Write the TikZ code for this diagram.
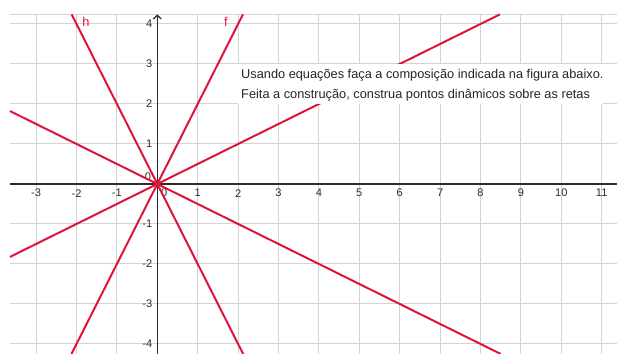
\documentclass[tikz,border=0pt]{standalone}
\usepackage{fontspec}
\setmainfont{Liberation Sans}
\usetikzlibrary{arrows.meta}
\definecolor{linered}{RGB}{220,20,60}
\definecolor{gridgray}{RGB}{211,211,211}
\definecolor{axisgray}{RGB}{45,45,45}

\begin{document}
\begin{tikzpicture}[x=1cm, y=0.99cm,
  gridline/.style={gridgray, line width=0.7pt},
  axisline/.style={axisgray, line width=0.9pt},
  tick/.style={font=\fontsize{7.8}{9}\selectfont, text=axisgray, inner sep=0pt},
  reta/.style={linered, line width=1.4pt},
  retalabel/.style={font=\fontsize{9}{10}\selectfont, text=linered, inner sep=0pt},
  note/.style={font=\fontsize{9}{10}\selectfont, text=black!85, anchor=base west, inner sep=0pt}]
            \useasboundingbox (-3.894,-4.25) rectangle (11.379,4.6);
            % Grid
            \begin{scope}
              \clip (-3.646,-4.25) rectangle (11.379,4.24);
              \foreach \x in {-3,...,11} \draw[gridline] (\x,-4.25) -- (\x,4.24);
              \foreach \y in {-4,...,4} \draw[gridline] (-3.646,\y) -- (11.379,\y);
            \end{scope}
            \draw[gridline] (-3.646,4.24) -- (11.379,4.24);
            
            % Axes
            \coordinate (xmin) at (-3.646,0);
            \coordinate (xmax) at (11.379,0);
            \coordinate (ymin) at (0,-4.25);
            \coordinate (ymax) at (0,4.24);
            \draw[axisline] (xmin) -- (xmax);
            \draw[axisline, -{Straight Barb[length=2.6pt,width=5.5pt]}] (ymin) -- (ymax);
            
            \foreach \x in {-3,-2,-1,1,2,3,4,5,6,7,8,9,10,11}
              \node[tick, name=xt\x] at (\x,-0.23) {\x};
            \foreach \y in {-4,-3,-2,-1,1,2,3,4}
              \node[tick, anchor=east, name=yt\y] at (-0.12,\y) {\y};
            \node[tick] (xzero) at (0.17,-0.21) {0};
            \node[tick] (yzero) at (-0.23,0.18) {0};
            
            % Lines
            \coordinate (f1) at (-2.125,-4.25);
            \coordinate (f2) at (2.12,4.24);
            \coordinate (h1) at (-2.12,4.24);
            \coordinate (h2) at (2.125,-4.25);
            \coordinate (g1) at (-3.646,-1.823);
            \coordinate (g2) at (8.48,4.24);
            \coordinate (k1) at (-3.646,1.823);
            \coordinate (k2) at (8.5,-4.25);
            \draw[reta] (f1) -- (f2);
            \draw[reta] (h1) -- (h2);
            \draw[reta] (g1) -- (g2);
            \draw[reta] (k1) -- (k2);
            
            \node[retalabel] (flabel) at (1.70,4.05) {f};
            \node[retalabel] (hlabel) at (-1.77,4.05) {h};
            
            % Text box
            \fill[white] (1.99,2.01) rectangle (11.03,2.99);
            \node[note] (note1) at (2.07,2.625) {Usando equações faça a composição indicada na figura abaixo.};
            \node[note] (note2) at (2.07,2.125) {Feita a construção, construa pontos dinâmicos sobre as retas};
        \end{tikzpicture}
\end{document}
